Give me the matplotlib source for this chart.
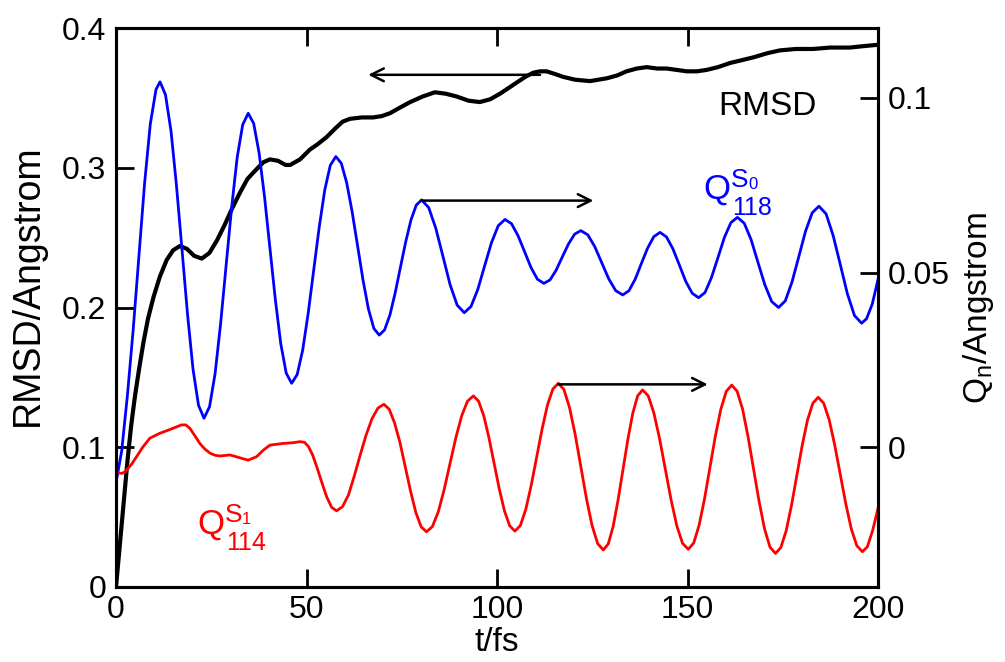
import numpy as np
import matplotlib
matplotlib.use("Agg")
from matplotlib import pyplot as plt

plt.rcParams['font.family'] = ['Liberation Sans', 'DejaVu Sans']
plt.rcParams['mathtext.fontset'] = 'custom'
plt.rcParams['mathtext.rm'] = 'Liberation Sans'
plt.rcParams['mathtext.it'] = 'Liberation Sans:italic'
plt.rcParams['mathtext.bf'] = 'Liberation Sans:bold'

# RMSD (left axis)
t_rmsd = [0, 1, 2, 3, 4, 5, 6, 7.2, 8.4, 9.8, 11.5, 13.3, 15.0, 16.8, 18.6, 20.5,
          22.5, 24.5, 26.5, 28.5, 30.5, 32.5, 34.5, 36.9, 38.7, 40.4, 42.5, 44.5,
          45.7, 48.3, 50.9, 53.0, 55.3, 57.5, 59.5, 61.4, 64.5, 67.5, 69.8, 71.9,
          74.5, 77.2, 80.5, 83.7, 86.5, 89.4, 92.5, 95.5, 98.2, 100.8, 103.0, 105.2,
          107.4, 109.5, 111.3, 113.0, 115.3, 117.4, 120.5, 124.4, 128.8, 131.5, 134.0,
          136.7, 139.3, 142.0, 144.5, 147.2, 149.8, 152.5, 155.0, 158.0, 161.2, 164.3,
          167.3, 171.0, 174.3, 178.5, 183.0, 187.4, 192.6, 196.1, 200.0]
rmsd = [0.0, 0.030, 0.060, 0.090, 0.116, 0.137, 0.155, 0.175, 0.192, 0.207, 0.222,
        0.234, 0.241, 0.244, 0.242, 0.237, 0.235, 0.239, 0.248, 0.259, 0.271, 0.282,
        0.292, 0.299, 0.304, 0.306, 0.305, 0.302, 0.302, 0.306, 0.313, 0.317, 0.322,
        0.328, 0.333, 0.335, 0.336, 0.336, 0.337, 0.339, 0.343, 0.347, 0.351, 0.354,
        0.353, 0.351, 0.348, 0.347, 0.349, 0.353, 0.357, 0.361, 0.365, 0.368, 0.369,
        0.369, 0.367, 0.365, 0.363, 0.362, 0.364, 0.366, 0.369, 0.371, 0.372, 0.371,
        0.371, 0.370, 0.369, 0.369, 0.370, 0.372, 0.375, 0.377, 0.379, 0.382, 0.384,
        0.385, 0.385, 0.386, 0.386, 0.387, 0.388]

# Q_118 on S0 (right axis)
t_q118 = [0, 1.5, 3, 4.5, 6, 7.5, 9, 10.5, 11.55,
          12.99, 14.44, 15.88, 17.33, 18.77, 20.21, 21.66, 23.1,
          24.55, 26.0, 27.45, 28.9, 30.35, 31.8, 33.25, 34.7,
          36.13, 37.55, 38.98, 40.4, 41.83, 43.25, 44.68, 46.1,
          47.55, 49.0, 50.45, 51.9, 53.35, 54.8, 56.25, 57.7,
          59.13, 60.55, 61.98, 63.4, 64.83, 66.25, 67.68, 69.1,
          70.49, 71.88, 73.26, 74.65, 76.04, 77.43, 78.81, 80.2,
          82.07, 83.93, 85.8, 87.67, 89.53, 91.4,
          93.18, 94.97, 96.75, 98.53, 100.32, 102.1,
          103.8, 105.5, 107.2, 108.9, 110.6, 112.3,
          113.92, 115.53, 117.15, 118.77, 120.38, 122.0,
          123.83, 125.67, 127.5, 129.33, 131.17, 133.0,
          134.63, 136.27, 137.9, 139.53, 141.17, 142.8,
          144.48, 146.17, 147.85, 149.53, 151.22, 152.9,
          154.6, 156.3, 158.0, 159.7, 161.4, 163.1,
          164.9, 166.7, 168.5, 170.3, 172.1, 173.9,
          175.67, 177.43, 179.2, 180.97, 182.73, 184.5,
          186.37, 188.23, 190.1, 191.97, 193.83, 195.7,
          197.0, 198.5, 200.0]
q118 = [-0.0102, -0.0010, 0.0149, 0.0335, 0.0545, 0.0755, 0.0925, 0.1024, 0.1046,
        0.1009, 0.0905, 0.0748, 0.0565, 0.0381, 0.0224, 0.0120, 0.0083,
        0.0116, 0.0210, 0.0353, 0.0520, 0.0686, 0.0829, 0.0923, 0.0956,
        0.0927, 0.0843, 0.0717, 0.0570, 0.0422, 0.0296, 0.0212, 0.0183,
        0.0208, 0.0278, 0.0384, 0.0508, 0.0631, 0.0737, 0.0807, 0.0832,
        0.0813, 0.0757, 0.0674, 0.0577, 0.0479, 0.0396, 0.0340, 0.0321,
        0.0336, 0.0378, 0.0441, 0.0515, 0.0588, 0.0651, 0.0693, 0.0708,
        0.0686, 0.0627, 0.0547, 0.0466, 0.0407, 0.0385,
        0.0403, 0.0452, 0.0519, 0.0585, 0.0634, 0.0652,
        0.0640, 0.0606, 0.0561, 0.0515, 0.0481, 0.0469,
        0.0479, 0.0507, 0.0545, 0.0582, 0.0610, 0.0620,
        0.0608, 0.0574, 0.0528, 0.0482, 0.0448, 0.0436,
        0.0448, 0.0481, 0.0526, 0.0570, 0.0603, 0.0615,
        0.0602, 0.0568, 0.0522, 0.0475, 0.0441, 0.0428,
        0.0443, 0.0486, 0.0543, 0.0601, 0.0643, 0.0658,
        0.0641, 0.0594, 0.0529, 0.0465, 0.0417, 0.0400,
        0.0419, 0.0473, 0.0545, 0.0618, 0.0671, 0.0690,
        0.0668, 0.0606, 0.0523, 0.0439, 0.0377, 0.0355,
        0.0368, 0.0410, 0.0480]

# Q_114 on S1 (right axis)
t_q114 = [0, 0.6, 1.5, 2.4, 4.0, 5.4, 7.0, 8.9, 11.5, 14.2, 17.2, 18.3, 19.4, 20.7,
          22.0, 23.3, 24.7, 26.0, 27.3, 29.9, 32.1, 34.7, 36.9, 38.7, 40.4, 43.9,
          46.5, 48.3, 49.5, 50.5, 51.6, 52.7, 54.0, 55.3, 56.6, 57.9,
          59.45, 61.0, 62.55, 64.1, 65.65, 67.2, 68.75, 70.3,
          71.7, 73.1, 74.5, 75.9, 77.3, 78.7, 80.1, 81.5,
          83.04, 84.58, 86.11, 87.65, 89.19, 90.73, 92.26, 93.8,
          95.16, 96.53, 97.89, 99.25, 100.61, 101.98, 103.34, 104.7,
          106.13, 107.55, 108.98, 110.4, 111.83, 113.25, 114.68, 116.1,
          117.58, 119.05, 120.53, 122.0, 123.48, 124.95, 126.43, 127.9,
          129.19, 130.48, 131.76, 133.05, 134.34, 135.63, 136.91, 138.2,
          139.7, 141.2, 142.7, 144.2, 145.7, 147.2, 148.7, 150.2,
          151.63, 153.05, 154.48, 155.9, 157.33, 158.75, 160.18, 161.6,
          163.04, 164.48, 165.91, 167.35, 168.79, 170.23, 171.66, 173.1,
          174.5, 175.9, 177.3, 178.7, 180.1, 181.5, 182.9, 184.3,
          185.75, 187.2, 188.65, 190.1, 191.55, 193.0, 194.45, 195.9,
          197.2, 198.6, 200.0]
q114 = [-0.0068, -0.0073, -0.0075, -0.0070, -0.0050, -0.0027, 0.0000, 0.0026, 0.0040,
        0.0051, 0.0064, 0.0064, 0.0054, 0.0033, 0.0011, -0.0005, -0.0017, -0.0023,
        -0.0025, -0.0022, -0.0029, -0.0037, -0.0027, -0.0008, 0.0006, 0.0011, 0.0013,
        0.0016, 0.0014, 0.0002, -0.0022, -0.0056, -0.0100, -0.0142, -0.0172, -0.0182,
        -0.0170, -0.0137, -0.0082, -0.0022, 0.0035, 0.0082, 0.0112, 0.0123,
        0.0109, 0.0070, 0.0015, -0.0055, -0.0125, -0.0187, -0.0228, -0.0242,
        -0.0227, -0.0185, -0.0122, -0.0048, 0.0027, 0.0090, 0.0132, 0.0147,
        0.0132, 0.0090, 0.0027, -0.0047, -0.0120, -0.0183, -0.0225, -0.0240,
        -0.0224, -0.0178, -0.0109, -0.0029, 0.0052, 0.0121, 0.0167, 0.0183,
        0.0165, 0.0113, 0.0036, -0.0056, -0.0147, -0.0224, -0.0276, -0.0294,
        -0.0277, -0.0227, -0.0152, -0.0065, 0.0022, 0.0097, 0.0147, 0.0164,
        0.0147, 0.0097, 0.0023, -0.0064, -0.0151, -0.0225, -0.0275, -0.0292,
        -0.0274, -0.0223, -0.0147, -0.0057, 0.0033, 0.0109, 0.0160, 0.0178,
        0.0160, 0.0108, 0.0029, -0.0063, -0.0155, -0.0234, -0.0286, -0.0304,
        -0.0287, -0.0239, -0.0166, -0.0081, 0.0005, 0.0078, 0.0126, 0.0143,
        0.0126, 0.0078, 0.0006, -0.0078, -0.0162, -0.0234, -0.0282, -0.0299,
        -0.0285, -0.0238, -0.0175]

# arrows: (tail t, head t, level)
arrow_rmsd = (111.3, 66.2, 0.3665)
arrow_q118 = (80.2, 125.3, 0.0706)
arrow_q114 = (116.1, 155.3, 0.0180)

x_ticks = [0, 50, 100, 150, 200]
left_ticks = [0, 0.1, 0.2, 0.3, 0.4]
left_ticklabels = ['0', '0.1', '0.2', '0.3', '0.4']
right_ticks = [0, 0.05, 0.1]
right_ticklabels = ['0', '0.05', '0.1']

W, H = 1005, 662
fig = plt.figure(figsize=(W / 100, H / 100), dpi=100)
ax = fig.add_axes([116 / W, 75 / H, 762 / W, 559 / H])
ax2 = ax.twinx()

ax.plot(t_rmsd, rmsd, color='black', lw=3.0, zorder=3)
ax2.plot(t_q118, q118, color='#0000ff', lw=2.0)
ax2.plot(t_q114, q114, color='#ff0000', lw=2.0)

ax.set_xlim(0, 200)
ax.set_ylim(0, 0.4)
ax2.set_ylim(-0.04, 0.12)

ax.set_xticks(x_ticks)
ax.set_xticklabels([str(v) for v in x_ticks])
ax.set_yticks(left_ticks)
ax.set_yticklabels(left_ticklabels)
ax2.set_yticks(right_ticks)
ax2.set_yticklabels(right_ticklabels)

ax.tick_params(axis='x', direction='in', top=True, length=13, width=2.0,
               labelsize=23, pad=6)
ax.tick_params(axis='y', direction='in', right=False, length=13, width=2.0,
               labelsize=23, pad=7)
ax2.tick_params(axis='y', direction='in', length=13, width=2.0, labelsize=23, pad=7)

for a in (ax, ax2):
    for s in a.spines.values():
        s.set_linewidth(2.2)

ax.set_xlabel('t/fs', fontsize=24)
ax.xaxis.set_label_coords(0.5, -0.1)
ax.xaxis.label.set(va='center')
ax.set_ylabel('RMSD/Angstrom', fontsize=27)
ax.yaxis.label.set(ha='center', va='center', rotation_mode='default')
ax.yaxis.set_label_coords(-0.116, 0.54)
ax2.set_ylabel(r'Q$_\mathrm{n}$/Angstrom', fontsize=24)
ax2.yaxis.label.set(ha='center', va='center', rotation_mode='default', rotation=90)
ax2.yaxis.set_label_coords(1.132, 0.5)

arrow_kw = dict(arrowstyle='->', lw=1.8, color='black', mutation_scale=23,
                shrinkA=0, shrinkB=0)
ax.annotate('', xy=(arrow_rmsd[1], arrow_rmsd[2]), xytext=(arrow_rmsd[0], arrow_rmsd[2]),
            arrowprops=arrow_kw)
ax2.annotate('', xy=(arrow_q118[1], arrow_q118[2]), xytext=(arrow_q118[0], arrow_q118[2]),
             arrowprops=arrow_kw)
ax2.annotate('', xy=(arrow_q114[1], arrow_q114[2]), xytext=(arrow_q114[0], arrow_q114[2]),
             arrowprops=arrow_kw)

ax.text(158, 0.338, 'RMSD', fontsize=24, color='black', ha='left', va='baseline')


# Q labels built from pieces so the super/subscripts sit like the original
def q_label(x, y, sup_sub, sub, color):
    # x, y: left edge and baseline of the big Q, in pixels from top-left
    def put(dx, dy, s, size):
        fig.text((x + dx) / W, 1 - (y + dy) / H, s, fontsize=size, color=color,
                 ha='left', va='baseline')
    put(0, 0, 'Q', 25)
    put(28, -12, 'S', 19)
    put(45, -10, sup_sub, 12)
    put(29, 16, sub, 18)


q_label(703, 199, '0', '118', '#0000ff')
q_label(197, 534, '1', '114', '#ff0000')

fig.savefig('out.png', dpi=100)
